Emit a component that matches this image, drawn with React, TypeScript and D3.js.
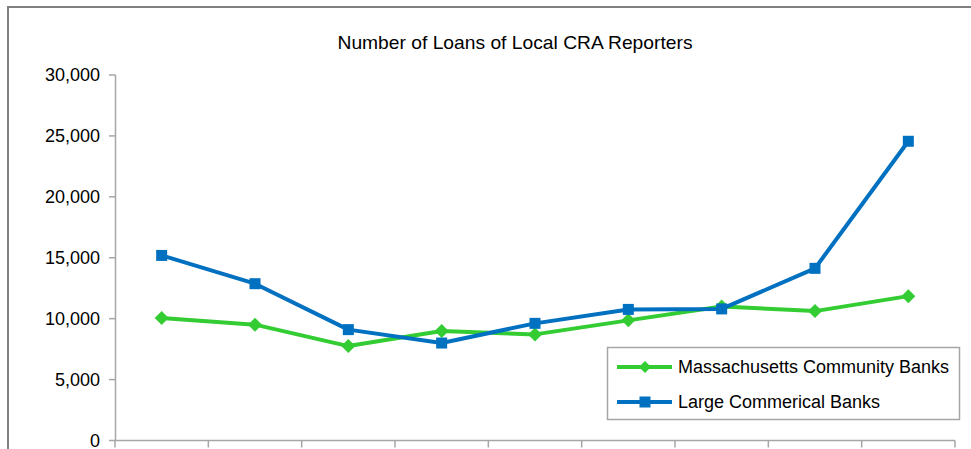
import React from "react";
import * as d3 from "d3";

const categories = ["1", "2", "3", "4", "5", "6", "7", "8", "9"];
const massCommunity = [10050, 9510, 7750, 8980, 8710, 9860, 11000, 10620, 11850];
const largeCommercial = [15190, 12870, 9100, 8000, 9615, 10760, 10800, 14130, 24560];
const yTicks = [0, 5000, 10000, 15000, 20000, 25000, 30000];
const seriesNames = ["Massachusetts Community Banks", "Large Commerical Banks"];
const title = "Number of Loans of Local CRA Reporters";

const W = 971;
const H = 449;
const GREEN = "#33CC33";
const BLUE = "#0070C0";
const AXIS = "#A6A6A6";

export default function App() {
  const x = d3.scaleBand<string>().domain(categories).range([115, 955]);
  const y = d3.scaleLinear().domain([0, 30000]).range([440.5, 75]);
  const line = d3
    .line<number>()
    .x((_, i) => (x(categories[i]) as number) + x.bandwidth() / 2)
    .y((d) => y(d));
  const fmt = d3.format(",");
  const cx = (i: number) => (x(categories[i]) as number) + x.bandwidth() / 2;
  const xTickPos = categories.map((c) => x(c) as number).concat([955]);
  const diamond = (px: number, py: number, r: number) =>
    `M${px},${py - r}L${px + r},${py}L${px},${py + r}L${px - r},${py}Z`;

  return (
    <svg
      width={W}
      height={H}
      style={{ position: "absolute", left: 0, top: 0, background: "#fff" }}
      fontFamily="Liberation Sans, Arial, sans-serif"
    >
      <rect x={0} y={0} width={W} height={H} fill="#fff" />
      {/* outer chart border */}
      <line x1={7} x2={W} y1={7} y2={7} stroke="#808080" strokeWidth={2} />
      <line x1={8} x2={8} y1={6} y2={H} stroke="#808080" strokeWidth={2} />

      <text
        x={515}
        y={49}
        textAnchor="middle"
        fontFamily="Liberation Sans Narrow, Arial Narrow, Liberation Sans, sans-serif"
        fontSize={19}
        textLength={355}
        lengthAdjust="spacingAndGlyphs"
        fill="#000"
      >
        {title}
      </text>

      {/* y axis */}
      <line x1={115.5} x2={115.5} y1={y(30000)} y2={y(0)} stroke={AXIS} strokeWidth={1.5} />
      {yTicks.map((t) => (
        <g key={t}>
          <line x1={109} x2={115.5} y1={y(t)} y2={y(t)} stroke={AXIS} strokeWidth={1.5} />
          <text x={100} y={y(t)} dy="0.35em" textAnchor="end" fontSize={18} fill="#000">
            {fmt(t)}
          </text>
        </g>
      ))}

      {/* x axis */}
      <line x1={115} x2={955} y1={y(0)} y2={y(0)} stroke={AXIS} strokeWidth={1.5} />
      {xTickPos.map((p, i) => (
        <line key={i} x1={p} x2={p} y1={y(0)} y2={y(0) + 7} stroke={AXIS} strokeWidth={1.5} />
      ))}

      {/* series */}
      <path d={line(massCommunity) || ""} fill="none" stroke={GREEN} strokeWidth={4} strokeLinejoin="round" />
      {massCommunity.map((v, i) => (
        <path key={i} d={diamond(cx(i), y(v), 7)} fill={GREEN} />
      ))}
      <path d={line(largeCommercial) || ""} fill="none" stroke={BLUE} strokeWidth={4} strokeLinejoin="round" />
      {largeCommercial.map((v, i) => (
        <rect key={i} x={cx(i) - 5.5} y={y(v) - 5.5} width={11} height={11} fill={BLUE} />
      ))}

      {/* legend */}
      <rect x={607.5} y={347.5} width={352} height={72} fill="#fff" stroke="#A6A6A6" strokeWidth={1.5} />
      <line x1={617} x2={672} y1={367} y2={367} stroke={GREEN} strokeWidth={4} />
      <path d={diamond(645, 367, 6)} fill={GREEN} />
      <text x={678} y={367} dy="0.35em" fontSize={18} fill="#000">
        {seriesNames[0]}
      </text>
      <line x1={617} x2={672} y1={402} y2={402} stroke={BLUE} strokeWidth={4} />
      <rect x={639.5} y={396.5} width={11} height={11} fill={BLUE} />
      <text x={678} y={402} dy="0.35em" fontSize={18} fill="#000">
        {seriesNames[1]}
      </text>
    </svg>
  );
}
